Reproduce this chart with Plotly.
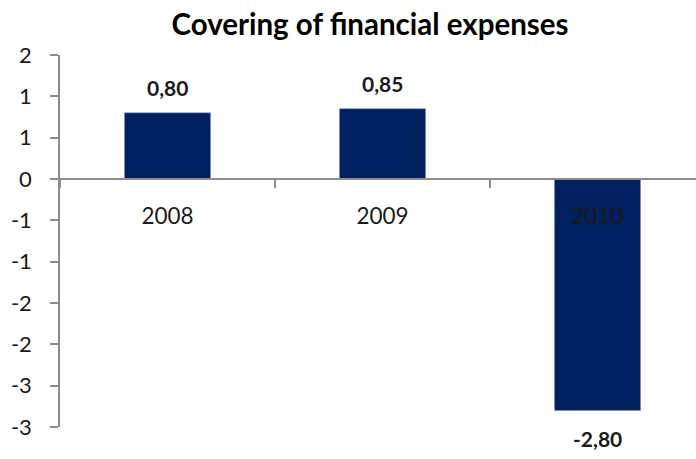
import plotly.graph_objects as go

categories = ["2008", "2009", "2010"]
values = [0.80, 0.85, -2.80]
y_tickvals = [1.5, 1.0, 0.5, 0.0, -0.5, -1.0, -1.5, -2.0, -2.5, -3.0]
y_ticktext = ["2", "1", "1", "0", "-1", "-1", "-2", "-2", "-3", "-3"]
title_text = "Covering of financial expenses"

y_min, y_max = -3.0, 1.5
BAR = "#002060"
AXIS = "#8c8c8c"
FONT = "Lato"

fig = go.Figure()
fig.add_trace(go.Bar(
    x=categories, y=values,
    marker=dict(color=BAR, line=dict(color="#7f8fb0", width=0.5)),
    width=0.4,
    hoverinfo="skip",
))

for i, v in enumerate(values):
    fig.add_annotation(
        xref="x", yref="y",
        x=i, y=v, text="<b>" + f"{v:.2f}".replace(".", ",") + "</b>",
        showarrow=False, yshift=25 if v >= 0 else -28,
        font=dict(family=FONT, size=21, color="#1a1a1a"),
    )

fig.update_layout(
    width=696, height=459,
    margin=dict(l=60, r=0, t=55, b=32),
    paper_bgcolor="white", plot_bgcolor="white",
    showlegend=False,
    title=dict(text="<b>" + title_text + "</b>", x=370 / 696, xanchor="center", y=1 - 25 / 459, yanchor="middle",
               font=dict(family=FONT, size=29.5, color="black")),
    font=dict(family=FONT, color="#1a1a1a"),
)

fig.update_xaxes(
    type="category",
    range=[-0.5, 2.458],
    anchor="free",
    position=(0 - y_min) / (y_max - y_min),
    showline=True, linecolor=AXIS, linewidth=1.5,
    ticks="outside", ticklen=8, tickcolor=AXIS, tickwidth=1.5,
    tickson="boundaries",
    ticklabelstandoff=17,
    tickfont=dict(family=FONT, size=22.5, color="#1a1a1a"),
    showgrid=False, zeroline=False,
)
fig.update_yaxes(
    range=[y_min, y_max],
    tickvals=y_tickvals, ticktext=y_ticktext,
    showline=True, linecolor=AXIS, linewidth=1.5,
    ticks="outside", ticklen=8, tickcolor=AXIS, tickwidth=1.5,
    ticklabelstandoff=14,
    tickfont=dict(family=FONT, size=22, color="#1a1a1a"),
    showgrid=False, zeroline=False,
)

fig.write_html("out.html")
